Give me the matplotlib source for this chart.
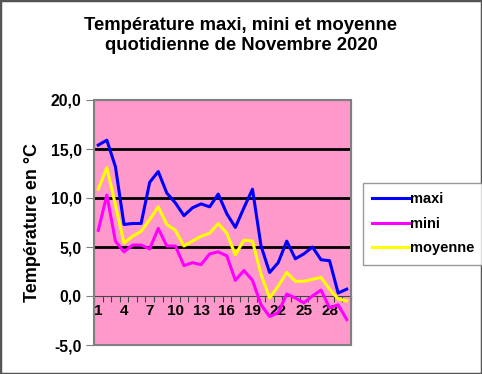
import matplotlib
matplotlib.use("Agg")
import matplotlib.pyplot as plt
from matplotlib.patches import Rectangle
from matplotlib.ticker import FuncFormatter

# Data (Novembre 2020, °C)
days = list(range(1, 31))
maxi = [15.4, 15.9, 13.2, 7.3, 7.4, 7.4, 11.6, 12.7, 10.5, 9.5,
        8.2, 9.0, 9.4, 9.1, 10.4, 8.4, 7.0, 9.0, 10.9, 5.1,
        2.4, 3.4, 5.6, 3.8, 4.3, 5.0, 3.7, 3.6, 0.3, 0.7]
mini = [6.7, 10.3, 5.6, 4.5, 5.2, 5.2, 4.8, 6.9, 5.1, 5.1,
        3.1, 3.4, 3.2, 4.3, 4.5, 4.1, 1.6, 2.6, 1.6, -0.9,
        -2.1, -1.7, 0.2, -0.2, -0.7, 0.0, 0.6, -1.2, -0.9, -2.4]
moyenne = [10.9, 13.1, 9.3, 5.4, 6.1, 6.6, 7.8, 9.1, 7.3, 6.7,
           5.1, 5.6, 6.1, 6.4, 7.4, 6.4, 4.2, 5.7, 5.6, 2.2,
           -0.2, 1.0, 2.4, 1.5, 1.5, 1.7, 1.9, 0.7, -0.3, -0.5]
label_days = days[::3]

plt.rcParams['font.family'] = ['Liberation Sans', 'DejaVu Sans']
plt.rcParams['font.weight'] = 'bold'

fig = plt.figure(figsize=(4.82, 3.74), dpi=100)
fig.patches.append(Rectangle((0, 0), 1, 1, transform=fig.transFigure,
                             fill=False, edgecolor='#555555', lw=2.5))

ax = fig.add_axes([94 / 482, 29 / 374, 257 / 482, 245 / 374])
ax.set_facecolor('#FF99CC')

# grid lines
for v in [5, 10, 15]:
    ax.axhline(v, color='black', lw=2, zorder=1)

ax.plot(days, maxi, color='#0000FF', lw=2.2, label='maxi', zorder=3)
ax.plot(days, mini, color='#FF00FF', lw=2.2, label='mini', zorder=3)
ax.plot(days, moyenne, color='#FFFF00', lw=2.2, label='moyenne', zorder=3)

ax.set_xlim(0.5, 30.5)
ax.set_ylim(-5, 20)

# x axis crosses at 0
for s in ['top', 'right', 'left']:
    ax.spines[s].set_color('#808080')
ax.spines['bottom'].set_position(('data', 0))
ax.spines['bottom'].set_color('#444444')
ax.add_patch(Rectangle((0, 0), 1, 1, transform=ax.transAxes, fill=False,
                       edgecolor='#808080', lw=1.5, zorder=4, clip_on=False))

ax.set_xticks([d + 0.5 for d in range(0, 31)])
ax.set_xticklabels([])
ax.tick_params(axis='x', which='major', length=4, direction='out', color='#444444')
ax.set_xticks(label_days, minor=True)
ax.set_xticklabels([str(d) for d in label_days], minor=True)
ax.tick_params(axis='x', which='minor', length=0, pad=6, labelsize=11)

ax.set_yticks([-5, 0, 5, 10, 15, 20])
ax.yaxis.set_major_formatter(FuncFormatter(lambda v, p: f"{v:.1f}".replace('.', ',')))
ax.tick_params(axis='y', length=6, direction='out', color='#808080', labelsize=11.3, pad=3)

ax.set_ylabel('Température en °C', fontsize=13, fontweight='bold', labelpad=7)

fig.text(0.5, 0.905, 'Température maxi, mini et moyenne\nquotidienne de Novembre 2020',
         ha='center', va='center', fontsize=13.3, fontweight='bold', linespacing=1.25)

leg = fig.legend(loc='upper left', bbox_to_anchor=(363 / 482, 1 - 183 / 374),
                 borderaxespad=0, fontsize=10.5, frameon=True, fancybox=False,
                 handlelength=2.5, handletextpad=0.1, labelspacing=0.72,
                 borderpad=0.65)
leg.get_frame().set_edgecolor('#808080')
leg.get_frame().set_linewidth(1)

fig.savefig('out.png', dpi=100)
